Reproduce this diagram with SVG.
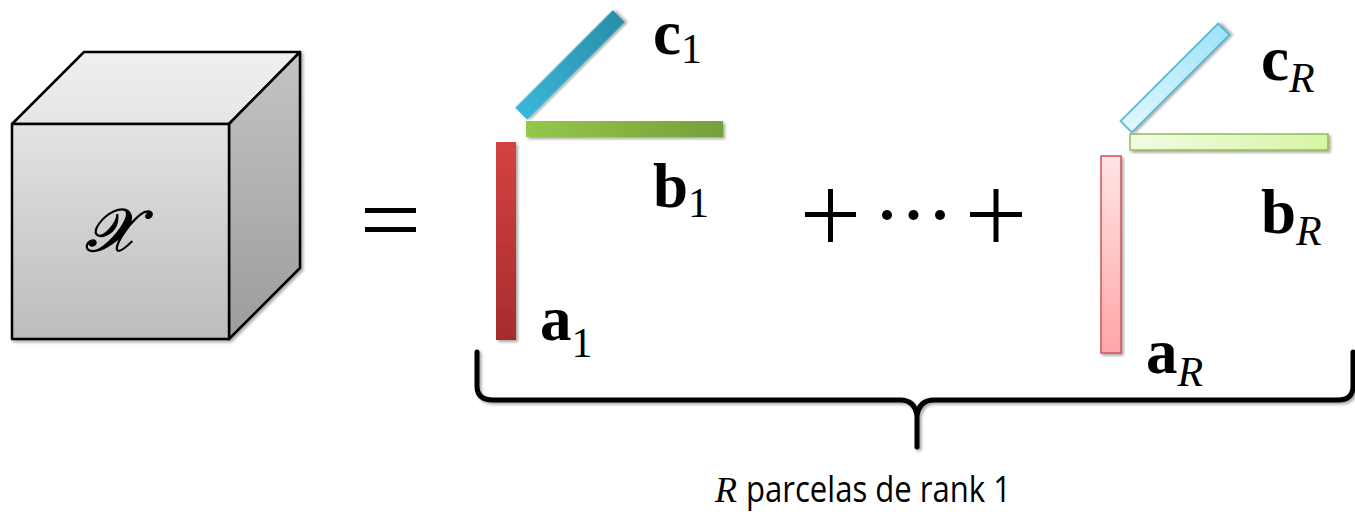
<svg xmlns="http://www.w3.org/2000/svg" width="1355" height="512" viewBox="0 0 1355 512">
<defs>
<linearGradient id="gFront" x1="0" y1="0" x2="0" y2="1"><stop offset="0" stop-color="#e3e3e3"/><stop offset="1" stop-color="#bcbcbc"/></linearGradient>
<linearGradient id="gTop" x1="0" y1="0" x2="0" y2="1"><stop offset="0" stop-color="#efefef"/><stop offset="1" stop-color="#e6e6e6"/></linearGradient>
<linearGradient id="gSide" x1="0" y1="0" x2="0" y2="1"><stop offset="0" stop-color="#c4c4c4"/><stop offset="1" stop-color="#9c9c9c"/></linearGradient>
<linearGradient id="gA1" x1="0" y1="0" x2="0" y2="1"><stop offset="0" stop-color="#d44242"/><stop offset="1" stop-color="#a62c2c"/></linearGradient>
<linearGradient id="gB1" x1="0" y1="0" x2="1" y2="0"><stop offset="0" stop-color="#95c74b"/><stop offset="1" stop-color="#76a03a"/></linearGradient>
<linearGradient id="gC1" x1="0" y1="0" x2="1" y2="0"><stop offset="0" stop-color="#3ab6da"/><stop offset="1" stop-color="#2a8ea8"/></linearGradient>
<linearGradient id="gAR" x1="0" y1="0" x2="0" y2="1"><stop offset="0" stop-color="#ffe4e4"/><stop offset="1" stop-color="#ffa6a6"/></linearGradient>
<linearGradient id="gBR" x1="0" y1="0" x2="1" y2="0"><stop offset="0" stop-color="#f2fbe4"/><stop offset="1" stop-color="#d6f5a4"/></linearGradient>
<linearGradient id="gCR" x1="0" y1="0" x2="1" y2="0"><stop offset="0" stop-color="#e0f6fd"/><stop offset="1" stop-color="#9ee4f9"/></linearGradient>
<filter id="sh" x="-20%" y="-20%" width="140%" height="140%">
<feGaussianBlur in="SourceAlpha" stdDeviation="1.5"/>
<feOffset dx="1.5" dy="2" result="b"/>
<feComponentTransfer><feFuncA type="linear" slope="0.35"/></feComponentTransfer>
<feMerge><feMergeNode/><feMergeNode in="SourceGraphic"/></feMerge>
</filter>
</defs>
<style>
.cube{stroke:#000;stroke-width:2.5;stroke-linejoin:round}
.lbl{font-family:"Liberation Serif",serif;font-weight:bold;font-size:63px;fill:#000}
.sub{font-family:"Liberation Serif",serif;font-weight:normal;font-size:42px}
.subi{font-family:"Liberation Serif",serif;font-weight:normal;font-style:italic;font-size:42px}
.op{stroke:#000;stroke-width:5;fill:none}
</style>
<g id="tensor" filter="url(#sh)">
<polygon class="cube" points="12,124 84,52 300,52 229,124" fill="url(#gTop)"/>
<polygon class="cube" points="229,124 300,52 300,268 229,339" fill="url(#gSide)"/>
<rect class="cube" x="12" y="124" width="217" height="215" fill="url(#gFront)"/>
<text x="111" y="251" text-anchor="middle" font-family="DejaVu Serif, serif" font-style="italic" font-size="60" stroke="#000" stroke-width="1.3">𝒳</text>
</g>
<g id="equals">
<rect x="365" y="208" width="51" height="5" fill="#000"/>
<rect x="365" y="227" width="51" height="5" fill="#000"/>
</g>
<g id="rank1-first">
<rect x="496" y="142" width="20" height="198" fill="url(#gA1)" filter="url(#sh)"/>
<rect x="526" y="121" width="197" height="16" fill="url(#gB1)" filter="url(#sh)"/>
<rect x="-69" y="-8.5" width="138" height="17" fill="url(#gC1)" transform="translate(570,65) rotate(-45)" filter="url(#sh)"/>
<text class="lbl" x="653" y="54">c<tspan class="sub" dy="9">1</tspan></text>
<text class="lbl" x="653" y="207">b<tspan class="sub" dy="10">1</tspan></text>
<text class="lbl" x="540" y="340">a<tspan class="sub" dy="17">1</tspan></text>
</g>
<g id="plus-dots">
<path class="op" d="M805,214.5 H856 M830.5,189 V242"/>
<circle cx="887" cy="215" r="5"/>
<circle cx="913.5" cy="215" r="5"/>
<circle cx="940" cy="215" r="5"/>
<path class="op" d="M970,214.5 H1022 M996,189 V242"/>
</g>
<g id="rank1-last">
<rect x="1101" y="156" width="20" height="197" fill="url(#gAR)" stroke="#d05252" stroke-width="1.5" filter="url(#sh)"/>
<rect x="1130" y="134" width="198" height="16" fill="url(#gBR)" stroke="#93bb55" stroke-width="1.5" filter="url(#sh)"/>
<rect x="-69" y="-8" width="138" height="16" fill="url(#gCR)" stroke="#3fa9c9" stroke-width="1.5" transform="translate(1175,78) rotate(-45)" filter="url(#sh)"/>
<text class="lbl" x="1261" y="80">c<tspan class="subi" dy="12">R</tspan></text>
<text class="lbl" x="1261" y="233">b<tspan class="subi" dy="12">R</tspan></text>
<text class="lbl" x="1146" y="373">a<tspan class="subi" dy="13">R</tspan></text>
</g>
<g id="connectors">
<path d="M477,352 V386 Q477,400 493,400 H900 Q915,400 917,416 V447 M917,416 Q919,400 934,400 H1338 Q1353,400 1353,386 V352" fill="none" stroke="#000" stroke-width="5" stroke-linejoin="round" stroke-linecap="round" filter="url(#sh)"/>
</g>
<g id="caption">
<text x="715" y="502" font-family="Liberation Serif, serif" font-style="italic" font-size="36">R</text>
<text x="746" y="502" font-family="Open Sans, sans-serif" font-size="37" textLength="265" lengthAdjust="spacingAndGlyphs">parcelas de rank 1</text>
</g>
</svg>
